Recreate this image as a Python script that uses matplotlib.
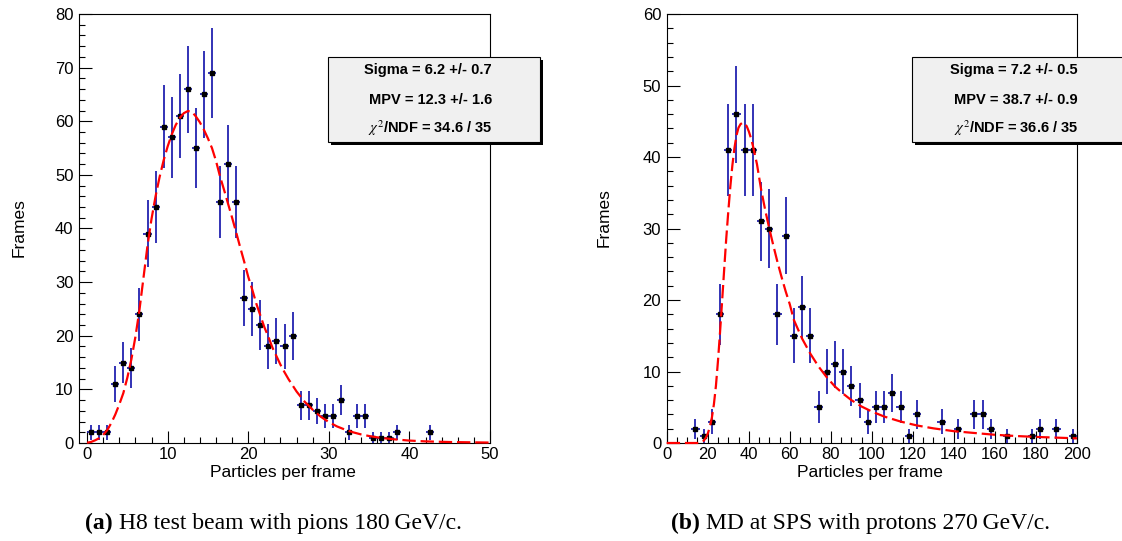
import matplotlib.pyplot as plt
from matplotlib.patches import Rectangle
from matplotlib.ticker import MultipleLocator
import numpy as np

plt.rcParams['font.family'] = ['Liberation Sans', 'DejaVu Sans']
plt.rcParams['mathtext.fontset'] = 'stix'

W, H = 1122, 541

# (a) H8 test beam, pions 180 GeV/c  -- bin width 1
a_centers = [0.5, 1.5, 2.5, 3.5, 4.5, 5.5, 6.5, 7.5, 8.5, 9.5,
             10.5, 11.5, 12.5, 13.5, 14.5, 15.5, 16.5, 17.5, 18.5, 19.5,
             20.5, 21.5, 22.5, 23.5, 24.5, 25.5, 26.5, 27.5, 28.5, 29.5,
             30.5, 31.5, 32.5, 33.5, 34.5, 35.5, 36.5, 37.5, 38.5, 42.5]
a_counts = [2, 2, 2, 11, 15, 14, 24, 39, 44, 59,
            57, 61, 66, 55, 65, 69, 45, 52, 45, 27,
            25, 22, 18, 19, 18, 20, 7, 7, 6, 5,
            5, 8, 2, 5, 5, 1, 1, 1, 2, 2]
# fitted curve
a_fit_x = [0, 0.5, 1, 1.5, 2, 2.5, 3, 3.5, 4, 4.5, 5, 5.5, 6, 6.5, 7, 7.5, 8, 8.5,
           9, 9.5, 10, 10.5, 11, 11.5, 12, 12.5, 13, 13.5, 14, 14.5, 15, 15.5,
           16, 16.5, 17, 17.5, 18, 18.5, 19, 19.5, 20, 20.5, 21, 21.5, 22, 22.5,
           23, 23.5, 24, 24.5, 25, 26, 27, 28, 29, 30, 31, 32, 33, 34, 35, 36,
           38, 40, 42, 45, 50]
a_fit_y = [0.05, 0.2, 0.5, 0.9, 1.5, 2.4, 3.7, 5.3, 7.2, 9.3, 12.2, 15.6, 19.8, 24.8,
           30.8, 36.8, 41.8, 46.0, 49.6, 52.7, 55.3, 57.5, 59.3, 60.6, 61.5, 61.9,
           61.8, 60.9, 59.8, 58.4, 56.8, 55.0, 52.6, 49.7, 47.2, 44.6, 42.0, 39.3,
           36.5, 33.8, 31.0, 28.6, 26.0, 23.8, 21.6, 19.8, 17.8, 16.2, 14.6, 13.2,
           11.9, 9.6, 7.7, 6.2, 4.9, 3.9, 3.1, 2.5, 2.0, 1.6, 1.3, 1.05,
           0.7, 0.45, 0.3, 0.18, 0.08]
a_stats = ['Sigma = 6.2 +/- 0.7', 'MPV = 12.3 +/- 1.6', r'$\chi^{2}$/NDF = 34.6 / 35']
a_caption = ['(a)', 'H8 test beam with pions 180\u2009GeV/c.']

# (b) MD at SPS, protons 270 GeV/c  -- bin width 4
b_centers = [14, 18, 22, 26, 30, 34, 38, 42, 46, 50,
             54, 58, 62, 66, 70, 74, 78, 82, 86, 90,
             94, 98, 102, 106, 110, 114, 118, 122, 134, 142,
             150, 154, 158, 166, 178, 182, 190, 198]
b_counts = [2, 1, 3, 18, 41, 46, 41, 41, 31, 30,
            18, 29, 15, 19, 15, 5, 10, 11, 10, 8,
            6, 3, 5, 5, 7, 5, 1, 4, 3, 2,
            4, 4, 2, 1, 1, 2, 2, 1]
b_fit_x = [0, 16, 17, 18, 19, 20, 21, 22, 23, 24, 25, 26, 27, 28, 29, 30, 31, 32,
           33, 34, 35, 36, 37, 38, 39, 40, 41, 42, 43, 44, 46, 48, 50, 52, 54, 56,
           58, 60, 62, 66, 70, 74, 78, 82, 86, 90, 95, 100, 106, 114, 122, 130,
           140, 150, 160, 170, 180, 190, 200]
b_fit_y = [0, 0, 0.1, 0.3, 0.7, 1.3, 2.2, 3.5, 5.4, 8.0, 11.5, 15.5, 19.8, 24.2,
           28.5, 32.3, 35.8, 38.8, 41.2, 43.0, 44.1, 44.6, 44.8, 44.7, 44.3, 43.6,
           42.7, 41.6, 40.3, 39.0, 35.5, 32.6, 30.0, 27.6, 25.3, 23.2, 21.2, 19.4,
           17.2, 14.6, 12.5, 10.7, 9.2, 7.9, 6.9, 6.0, 5.1, 4.4, 3.7, 3.0, 2.45,
           2.05, 1.65, 1.4, 1.15, 0.98, 0.85, 0.75, 0.65]
b_stats = ['Sigma = 7.2 +/- 0.5', 'MPV = 38.7 +/- 0.9', r'$\chi^{2}$/NDF = 36.6 / 35']
b_caption = ['(b)', 'MD at SPS with protons 270\u2009GeV/c.']


def fx(px):
    return px / W


def fy(py):
    return 1 - py / H


fig = plt.figure(figsize=(W / 100, H / 100), dpi=100)
fig.set_facecolor('white')


def panel(left, right, xlim, ylim, xmaj, xmin, ymaj, ymin, centers, counts, binw,
          fit_x, fit_y, stats, box, text_x, ylab_pos, xlab_x, caption, cap_x):
    ax = fig.add_axes([fx(left), fy(443), fx(right - left), (443 - 14) / H])
    counts = np.array(counts, dtype=float)
    ax.errorbar(centers, counts, yerr=np.sqrt(counts), xerr=binw / 2, fmt='s',
                ms=3.4, mfc='black', mec='black', ecolor='#2222b0',
                elinewidth=1.3, capsize=0, zorder=3)
    line, = ax.plot(fit_x, fit_y, color='red', lw=1.6, zorder=4, clip_on=False)
    line.set_dashes((6, 2.2))
    ax.set_xlim(*xlim)
    ax.set_ylim(*ylim)
    ax.xaxis.set_major_locator(MultipleLocator(xmaj))
    ax.xaxis.set_minor_locator(MultipleLocator(xmin))
    ax.yaxis.set_major_locator(MultipleLocator(ymaj))
    ax.yaxis.set_minor_locator(MultipleLocator(ymin))
    ax.tick_params(which='both', direction='in', top=False, right=False,
                   labelsize=12, width=0.8)
    ax.tick_params(which='major', length=9)
    ax.tick_params(which='minor', length=4.5)
    ax.tick_params(axis='x', pad=3)
    ax.tick_params(axis='y', pad=4)
    for s in ax.spines.values():
        s.set_linewidth(0.8)

    # stats box with shadow
    x0, x1, y0, y1 = box
    fig.patches.append(Rectangle((fx(x0 + 3), fy(y1 + 3)), fx(x1 - x0), (y1 - y0) / H,
                                 transform=fig.transFigure, facecolor='black',
                                 edgecolor='black', lw=0, zorder=5))
    fig.patches.append(Rectangle((fx(x0), fy(y1)), fx(x1 - x0), (y1 - y0) / H,
                                 transform=fig.transFigure, facecolor='#f0f0f0',
                                 edgecolor='black', lw=0.8, zorder=6))
    for txt, py in zip(stats, [70, 100, 128]):
        fig.text(fx(text_x), fy(py), txt, ha='right', va='center', fontsize=10.5,
                 fontweight='bold', zorder=7)

    fig.text(fx(ylab_pos[0]), fy(ylab_pos[1]), 'Frames', rotation=90,
             ha='center', va='center', fontsize=12.5)
    fig.text(fx(xlab_x), fy(473), 'Particles per frame', ha='center', va='center',
             fontsize=12.5)
    fig.text(fx(cap_x[0]), fy(523), caption[0], ha='left', va='center',
             fontsize=17, fontweight='bold', family='Liberation Serif')
    fig.text(fx(cap_x[1]), fy(523), caption[1], ha='left', va='center',
             fontsize=17, family='Liberation Serif')
    return ax


panel(79, 490, (-1, 50), (0, 80), 10, 2, 10, 2, a_centers, a_counts, 1.0,
      a_fit_x, a_fit_y, a_stats, (328, 540, 57, 142), 492, (19, 228), 283,
      a_caption, (85, 119))
panel(666.7, 1077, (0, 200), (0, 60), 20, 5, 10, 2, b_centers, b_counts, 4.0,
      b_fit_x, b_fit_y, b_stats, (912, 1130, 57, 142), 1078, (604, 218), 870,
      b_caption, (671, 706))

fig.savefig('out.png', dpi=100)
